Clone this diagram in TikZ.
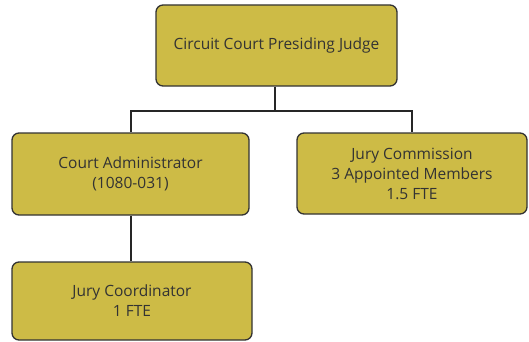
\documentclass[tikz,border=0pt]{standalone}
\usepackage{fontspec}
\setmainfont{Open Sans}
\usepackage{tikz}
\definecolor{boxfill}{RGB}{205,187,70}
\definecolor{boxline}{RGB}{51,51,51}
\tikzset{
	orgstyle/.style={rectangle,rounded corners=7pt,draw=boxline,line width=1.3pt,fill=boxfill,align=center,text=boxline,inner sep=0pt},
	linkstyle/.style={draw=black!85,line width=2pt}
}

\begin{document}
\begin{tikzpicture}[x=1pt,y=1pt]
		\fontsize{15.5}{20}\selectfont
		\useasboundingbox (0,0) rectangle (529,341);
		\node[orgstyle,minimum width=241pt,minimum height=81pt] (judge) at (276.5,295.5) {Circuit Court Presiding Judge};
		\node[orgstyle,minimum width=237pt,minimum height=82pt] (admin) at (130.5,167) {Court Administrator\\(1080-031)};
		\node[orgstyle,minimum width=230pt,minimum height=81pt] (comm) at (412,167.5) {Jury Commission\\3 Appointed Members\\1.5 FTE};
		\node[orgstyle,minimum width=240pt,minimum height=78pt] (coord) at (132,40) {Jury Coordinator\\1 FTE};
		\coordinate (bus) at (275,230);
		\draw[linkstyle] (judge.south -| bus)--(bus);
		\draw[linkstyle] (bus)-|(admin.north);
		\draw[linkstyle] (bus)-|(comm.north);
		\draw[linkstyle] (admin.south)--(admin.south |- coord.north);
		\end{tikzpicture}
\end{document}
